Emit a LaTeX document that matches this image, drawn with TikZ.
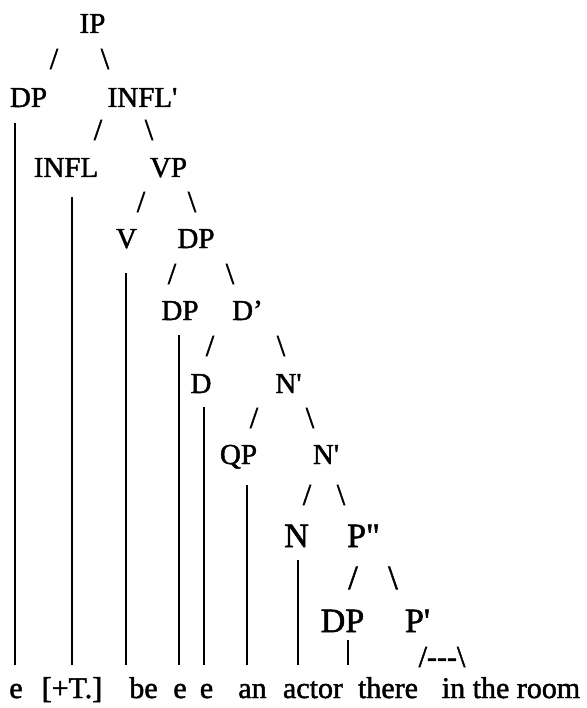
\documentclass[tikz,border=0pt]{standalone}
\usepackage{fontspec}
\setmainfont{Liberation Serif}[Ligatures=TeXOff,FakeBold=1.6]
\begin{document}
\begin{tikzpicture}[x=1pt,y=-1pt,
  lab/.style={inner sep=0pt,anchor=base,font=\fontsize{29}{29}\selectfont},
  labb/.style={inner sep=0pt,anchor=base,font=\fontsize{34}{34}\selectfont},
  sl/.style={inner sep=0pt,anchor=center,font=\fontsize{30}{30}\selectfont},
  slb/.style={inner sep=0pt,anchor=center,font=\fontsize{34}{34}\selectfont},
  wd/.style={inner sep=0pt,anchor=base,font=\fontsize{30}{30}\selectfont},
  stem/.style={line width=1.8pt}]
\useasboundingbox (0,0) rectangle (586,708);
% labels
\node[lab] (ip) at (92.5,33) {IP};
\node[sl] (s1l) at (54,59) {/};
\node[sl] (s1r) at (105,59) {\textbackslash};
\node[lab] (dpA) at (28.5,107) {DP};
\node[lab] (inflbar) at (142.5,107) {INFL'};
\node[sl] (s2l) at (98,130) {/};
\node[sl] (s2r) at (149,130) {\textbackslash};
\node[lab] (infl) at (66,177) {INFL};
\node[lab] (vp) at (168.5,177) {VP};
\node[sl] (s3l) at (141,202) {/};
\node[sl] (s3r) at (192,202) {\textbackslash};
\node[lab] (v) at (126.5,248) {V};
\node[lab] (dpB) at (196,248) {DP};
\node[sl] (s4l) at (172,274) {/};
\node[sl] (s4r) at (230,274) {\textbackslash};
\node[lab] (dpC) at (180,320) {DP};
\node[lab] (dbar) at (247.5,320) {D’};
\node[sl] (s5l) at (210,346) {/};
\node[sl] (s5r) at (281,346) {\textbackslash};
\node[lab] (d) at (201,393) {D};
\node[lab] (nbarA) at (288.5,393) {N'};
\node[sl] (s6l) at (254,418) {/};
\node[sl] (s6r) at (310,418) {\textbackslash};
\node[lab] (qp) at (238.5,464) {QP};
\node[lab] (nbarB) at (326,464) {N'};
\node[sl] (s7l) at (307,495) {/};
\node[sl] (s7r) at (341,495) {\textbackslash};
\node[labb] (n) at (296.5,547) {N};
\node[labb] (pbb) at (363.5,547) {P"};
\node[slb] (s8l) at (353,578) {/};
\node[slb] (s8r) at (393,578) {\textbackslash};
\node[labb] (dpD) at (342.5,632) {DP};
\node[labb] (pbar) at (417.5,632) {P'};
\node[sl] (tri) at (442,657) {/---\textbackslash};
% words
\node[wd] (w1) at (16,698) {e};
\node[wd] (w2) at (72,698) {[+T.]};
\node[wd] (w3) at (143.5,698) {be};
\node[wd] (w4) at (180,698) {e};
\node[wd] (w5) at (206.5,698) {e};
\node[wd] (w6) at (252.5,698) {an};
\node[wd] (w7) at (313,698) {actor};
\node[wd] (w8) at (388,698) {there};
\node[wd] (w9) at (511,698) {in the room};
% stems
\coordinate (t1) at (15,123);  \coordinate (b1) at (15,665);
\coordinate (t2) at (72,197);  \coordinate (b2) at (72,665);
\coordinate (t3) at (126,273); \coordinate (b3) at (126,665);
\coordinate (t4) at (179,335); \coordinate (b4) at (179,665);
\coordinate (t5) at (204,407); \coordinate (b5) at (204,665);
\coordinate (t6) at (247,485); \coordinate (b6) at (247,665);
\coordinate (t7) at (298,560); \coordinate (b7) at (298,665);
\coordinate (t8) at (348,640); \coordinate (b8) at (348,665);
\foreach \i in {1,...,8} \draw[stem] (t\i) -- (b\i);
\end{tikzpicture}
\end{document}
